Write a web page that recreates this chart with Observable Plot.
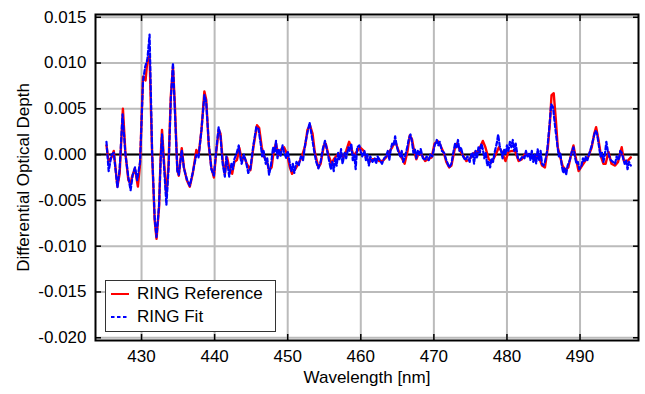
<!DOCTYPE html>
<html>
<head>
<meta charset="utf-8">
<script src="https://cdn.jsdelivr.net/npm/d3@7"></script>
<script src="https://cdn.jsdelivr.net/npm/@observablehq/plot@0.6"></script>
<style>
  body { margin: 0; background: #fff; font-family: "Liberation Sans", Arial, Helvetica, sans-serif; }
  #wrap { position: relative; width: 645px; height: 394px; }
  #legend { position: absolute; left: 105px; top: 280px; width: 169px; height: 50px;
            border: 1.5px solid #333; background: #fff; font-size: 17px; color: #000; }
  .row { position: absolute; left: 5px; height: 20px; display: flex; align-items: center; }
  .row span { margin-left: 8px; }
</style>
</head>
<body>
<div id="wrap"></div>
<script>
const xTicks = [430, 440, 450, 460, 470, 480, 490];
const yTicks = [-0.020, -0.015, -0.010, -0.005, 0.000, 0.005, 0.010, 0.015];
const seriesNames = ["RING Reference", "RING Fit"];
const xLabel = "Wavelength [nm]";
const yLabel = "Differential Optical Depth";

// [wavelength nm, differential optical depth]
const refData = [
[425.2,0.0010],[425.5,-0.0008],[425.9,-0.0003],[426.2,0.0004],[426.7,-0.0035],[427.0,-0.0021],[427.45,0.0050],[427.8,0.0001],[428.2,-0.0028],[428.5,-0.0032],[428.7,-0.0024],[429.1,-0.0015],[429.5,-0.0035],[429.8,-0.0010],[430.2,0.0085],[430.55,0.0081],[430.8,0.0103],[431.1,0.0108],[431.45,0.0],[431.8,-0.0072],[432.05,-0.0092],[432.4,-0.0057],[432.6,-0.0006],[432.8,0.0027],[433.1,-0.0010],[433.4,-0.0046],[433.7,-0.0010],[434.0,0.0063],[434.3,0.0096],[434.55,0.0056],[434.9,-0.0017],[435.1,-0.0023],[435.5,0.0007],[435.8,-0.0014],[436.2,-0.0028],[436.6,-0.0035],[437.0,-0.0021],[437.5,0.0005],[437.8,-0.0001],[438.2,0.0027],[438.6,0.0069],[438.85,0.0060],[439.2,0.0010],[439.55,-0.0014],[439.9,-0.0025],[440.2,0.0001],[440.55,0.0027],[440.8,0.0023],[441.1,-0.0006],[441.4,-0.0021],[441.7,-0.0003],[442.0,-0.0014],[442.4,-0.0021],[442.7,-0.0008],[443.05,-0.0006],[443.4,0.0007],[443.7,-0.0006],[444.1,-0.0003],[444.4,-0.0010],[444.9,-0.0017],[445.3,0.0008],[445.8,0.0032],[446.1,0.0029],[446.45,0.0008],[446.8,-0.0003],[447.1,-0.0006],[447.45,-0.0017],[447.8,-0.0014],[448.1,0.0005],[448.4,0.0012],[448.7,-0.0001],[449.2,0.0007],[449.5,0.0008],[449.9,0.0001],[450.3,-0.0014],[450.6,-0.0021],[451.1,-0.0015],[451.45,-0.0010],[451.9,-0.0003],[452.4,0.0010],[452.7,0.0027],[453.05,0.0032],[453.4,0.0023],[453.7,0.0003],[454.2,-0.0014],[454.5,-0.0010],[454.95,0.0010],[455.2,0.0012],[455.6,-0.0001],[456.0,-0.0010],[456.3,-0.0005],[456.7,-0.0001],[457.2,0.0001],[457.6,-0.0003],[458.0,0.0004],[458.4,0.0014],[458.6,0.0010],[459.0,-0.0001],[459.45,0.0003],[459.9,0.0008],[460.4,0.0004],[460.7,-0.0003],[461.2,-0.0008],[461.6,-0.0005],[462.1,-0.0005],[462.5,-0.0007],[463.0,-0.0007],[463.45,-0.0003],[463.9,0.0003],[464.3,0.0008],[464.7,0.0015],[465.0,0.0008],[465.4,-0.0001],[465.7,-0.0005],[466.0,-0.0010],[466.4,0.0004],[466.7,0.0021],[467.0,0.0017],[467.3,0.0004],[467.6,-0.0005],[468.0,0.0003],[468.4,-0.0001],[468.8,-0.0007],[469.2,-0.0005],[469.7,-0.0003],[470.1,0.0012],[470.5,0.0015],[470.9,0.0010],[471.4,0.0001],[471.7,-0.0008],[472.1,-0.0014],[472.4,-0.0012],[472.9,0.0008],[473.2,0.0012],[473.6,0.0004],[474.0,-0.0001],[474.45,-0.0007],[474.9,-0.0005],[475.4,0.0001],[475.7,0.0003],[476.1,0.0004],[476.7,0.0015],[477.05,0.0008],[477.5,-0.0005],[477.95,-0.0008],[478.4,-0.0001],[478.9,0.0008],[479.3,0.0003],[479.8,-0.0007],[480.2,0.0003],[480.7,0.0004],[481.1,0.0004],[481.6,-0.0007],[482.05,-0.0005],[482.5,0.0001],[482.95,-0.0001],[483.4,-0.0003],[483.9,-0.0005],[484.3,-0.0001],[484.8,-0.0012],[485.2,-0.0014],[485.6,0.0008],[485.9,0.0037],[486.1,0.0065],[486.4,0.0067],[486.7,0.0037],[486.95,0.0008],[487.3,-0.0003],[487.6,-0.0012],[488.0,-0.0017],[488.4,-0.0014],[488.8,0.0001],[489.1,0.0010],[489.4,-0.0003],[489.8,-0.0018],[490.2,-0.0013],[490.7,-0.0007],[491.1,-0.0003],[491.6,0.0008],[491.95,0.0023],[492.2,0.0030],[492.5,0.0017],[492.9,-0.0003],[493.2,-0.0010],[493.5,-0.0010],[493.9,0.0003],[494.3,-0.0010],[494.8,-0.0012],[495.2,-0.0008],[495.7,0.0008],[496.0,-0.0007],[496.5,-0.0007],[496.95,-0.0003]
];

const fitData = [
[425.2,0.0014],[425.5,-0.0018],[425.9,0.0000],[426.2,0.0002],[426.7,-0.0036],[427.0,-0.0016],[427.4,0.0044],[427.8,0.0000],[428.2,-0.0025],[428.5,-0.0039],[428.8,-0.0022],[429.1,-0.0014],[429.4,-0.0028],[429.8,-0.0008],[430.2,0.0080],[430.5,0.0096],[430.8,0.0104],[431.1,0.0131],[431.45,0.0002],[431.8,-0.0070],[432.05,-0.0090],[432.4,-0.0055],[432.6,-0.0008],[432.8,0.0022],[433.1,-0.0015],[433.4,-0.0055],[433.7,-0.0015],[434.0,0.0060],[434.3,0.0100],[434.55,0.0050],[434.9,-0.0018],[435.1,-0.0022],[435.5,0.0005],[435.8,-0.0015],[436.2,-0.0027],[436.6,-0.0034],[437.0,-0.0020],[437.5,0.0000],[437.8,-0.0003],[438.2,0.0027],[438.6,0.0065],[438.85,0.0057],[439.2,0.0012],[439.55,-0.0016],[439.9,-0.0023],[440.2,0.0003],[440.55,0.0030],[440.8,0.0020],[441.1,-0.0010],[441.4,-0.0024],[441.6,-0.0002],[441.8,-0.0012],[442.0,-0.0024],[442.3,-0.0010],[442.5,-0.0016],[442.7,-0.0005],[443.0,0.0001],[443.3,0.0010],[443.5,-0.0002],[443.7,-0.0010],[444.0,0.0000],[444.3,-0.0008],[444.6,-0.0020],[444.9,-0.0015],[445.3,0.0010],[445.7,0.0030],[446.0,0.0028],[446.3,0.0012],[446.5,-0.0002],[446.7,0.0004],[447.0,-0.0010],[447.2,-0.0004],[447.45,-0.0022],[447.7,-0.0012],[448.0,0.0008],[448.2,0.0002],[448.4,0.0015],[448.6,-0.0004],[448.8,0.0006],[449.0,-0.0002],[449.3,0.0010],[449.5,0.0002],[449.8,-0.0004],[450.0,0.0004],[450.3,-0.0010],[450.5,-0.0018],[450.7,-0.0010],[450.9,-0.0020],[451.2,-0.0008],[451.5,-0.0012],[451.8,-0.0002],[452.1,-0.0006],[452.4,0.0012],[452.7,0.0024],[453.0,0.0035],[453.3,0.0020],[453.6,0.0005],[453.9,-0.0008],[454.2,-0.0015],[454.5,-0.0008],[454.8,0.0006],[455.1,0.0015],[455.35,0.0006],[455.6,-0.0004],[455.9,-0.0016],[456.1,-0.0008],[456.3,-0.0018],[456.5,-0.0004],[456.7,-0.0012],[456.9,0.0002],[457.1,-0.0006],[457.3,0.0006],[457.5,-0.0010],[457.8,0.0002],[458.0,-0.0004],[458.3,0.0008],[458.5,0.0004],[458.7,0.0012],[458.9,-0.0006],[459.1,0.0000],[459.3,-0.0016],[459.5,0.0008],[459.8,0.0010],[460.0,0.0003],[460.2,-0.0002],[460.5,0.0004],[460.7,-0.0006],[460.9,0.0000],[461.1,-0.0012],[461.3,-0.0002],[461.6,-0.0008],[461.9,-0.0004],[462.1,-0.0010],[462.3,-0.0002],[462.6,-0.0006],[462.9,-0.0010],[463.2,-0.0004],[463.45,-0.0002],[463.7,0.0004],[463.9,-0.0006],[464.1,0.0006],[464.3,0.0012],[464.5,0.0010],[464.7,0.0020],[464.9,0.0010],[465.1,0.0004],[465.4,-0.0002],[465.6,0.0004],[465.8,-0.0008],[466.0,-0.0004],[466.3,0.0006],[466.6,0.0018],[466.8,0.0022],[467.0,0.0014],[467.2,0.0002],[467.4,0.0006],[467.6,-0.0004],[467.8,0.0004],[468.0,0.0000],[468.2,0.0006],[468.5,-0.0004],[468.8,-0.0006],[469.0,-0.0002],[469.3,-0.0006],[469.5,0.0000],[469.8,-0.0002],[470.1,0.0010],[470.4,0.0016],[470.6,0.0010],[470.8,0.0014],[471.1,0.0004],[471.4,0.0002],[471.7,-0.0006],[472.1,-0.0014],[472.4,-0.0010],[472.7,0.0004],[472.9,0.0012],[473.1,0.0008],[473.3,0.0016],[473.5,0.0004],[473.7,0.0008],[474.0,-0.0002],[474.3,-0.0006],[474.6,-0.0002],[474.9,-0.0008],[475.1,0.0000],[475.3,0.0002],[475.5,-0.0010],[475.7,0.0004],[475.9,-0.0004],[476.1,0.0008],[476.3,0.0002],[476.5,0.0012],[476.7,0.0006],[476.9,-0.0004],[477.1,0.0002],[477.3,-0.0012],[477.5,-0.0008],[477.7,-0.0014],[477.9,-0.0004],[478.1,-0.0008],[478.3,0.0002],[478.6,0.0012],[478.8,0.0022],[479.0,0.0010],[479.2,0.0004],[479.4,-0.0004],[479.6,0.0006],[479.8,0.0000],[480.0,0.0010],[480.2,0.0004],[480.4,0.0014],[480.6,0.0008],[480.8,0.0016],[481.0,0.0004],[481.2,0.0012],[481.5,-0.0004],[481.8,-0.0006],[482.1,-0.0002],[482.4,-0.0004],[482.6,0.0004],[482.8,-0.0002],[483.0,0.0002],[483.2,-0.0006],[483.4,0.0004],[483.6,-0.0008],[483.8,0.0000],[484.0,-0.0010],[484.2,0.0006],[484.4,-0.0006],[484.6,0.0004],[484.8,-0.0010],[485.0,-0.0012],[485.2,-0.0008],[485.5,0.0004],[485.8,0.0030],[486.05,0.0055],[486.3,0.0052],[486.6,0.0030],[486.9,0.0010],[487.1,-0.0002],[487.3,0.0002],[487.5,-0.0012],[487.7,-0.0020],[487.9,-0.0014],[488.1,-0.0022],[488.3,-0.0012],[488.6,-0.0006],[488.9,0.0004],[489.1,0.0008],[489.3,-0.0002],[489.5,-0.0010],[489.7,-0.0008],[489.9,-0.0016],[490.2,-0.0012],[490.4,-0.0004],[490.6,-0.0008],[490.8,-0.0002],[491.0,-0.0006],[491.3,0.0002],[491.6,0.0010],[491.9,0.0020],[492.1,0.0026],[492.3,0.0024],[492.5,0.0014],[492.8,-0.0002],[493.0,0.0002],[493.2,-0.0008],[493.4,0.0000],[493.6,0.0014],[493.8,0.0004],[494.0,-0.0002],[494.2,-0.0006],[494.5,-0.0008],[494.8,-0.0010],[495.0,-0.0002],[495.3,-0.0006],[495.5,0.0004],[495.7,0.0002],[495.9,-0.0004],[496.1,-0.0010],[496.3,-0.0006],[496.5,-0.0016],[496.7,-0.0008],[496.95,-0.0012]
];

const fmtY = d => d.toFixed(3);

const chart = Plot.plot({
  width: 645,
  height: 394,
  marginLeft: 95,
  marginRight: 7,
  marginTop: 14,
  marginBottom: 54,
  style: { fontFamily: '"Liberation Sans", Arial, Helvetica, sans-serif', fontSize: "17px", background: "#fff", color: "#000" },
  x: { domain: [423.7, 498] },
  y: { domain: [-0.0203, 0.0153] },
  marks: [
    Plot.gridX(xTicks, { stroke: "#bbb", strokeOpacity: 1, strokeWidth: 2 }),
    Plot.gridY(yTicks, { stroke: "#bbb", strokeOpacity: 1, strokeWidth: 2 }),
    Plot.ruleY([0], { stroke: "#000", strokeWidth: 2 }),
    Plot.line(refData, { x: d => d[0], y: d => d[1], stroke: "#ff0000", strokeWidth: 2.4 }),
    Plot.line(fitData, { x: d => d[0], y: d => d[1], stroke: "#0000ff", strokeWidth: 2.2, strokeDasharray: "4,2.5" }),
    // inward ticks on all four sides
    Plot.axisX(xTicks, { anchor: "bottom", tickSize: -6, fill: "none", strokeWidth: 1.5, label: null }),
    Plot.axisX(xTicks, { anchor: "top", tickSize: -6, fill: "none", strokeWidth: 1.5, label: null }),
    Plot.axisY(yTicks, { anchor: "left", tickSize: -6, fill: "none", strokeWidth: 1.5, label: null }),
    Plot.axisY(yTicks, { anchor: "right", tickSize: -6, fill: "none", strokeWidth: 1.5, label: null }),
    // tick labels and axis titles
    Plot.axisX(xTicks, { anchor: "bottom", tickSize: 0, tickPadding: 9, label: xLabel, labelAnchor: "center", labelOffset: 42, labelArrow: "none", fontSize: 17 }),
    Plot.axisY(yTicks, { anchor: "left", tickSize: 0, tickPadding: 9, tickFormat: fmtY, label: yLabel, labelAnchor: "center", labelOffset: 79, labelArrow: "none", fontSize: 17 }),
    Plot.frame({ stroke: "#000", strokeWidth: 2 })
  ]
});

const wrap = document.getElementById("wrap");
wrap.appendChild(chart);

const legend = document.createElement("div");
legend.id = "legend";
const styles = [
  { stroke: "#ff0000", dash: null, top: 3 },
  { stroke: "#0000ff", dash: "3.5,2.5", top: 26 }
];
seriesNames.forEach((name, i) => {
  const row = document.createElement("div");
  row.className = "row";
  row.style.top = styles[i].top + "px";
  row.innerHTML = `<svg width="18" height="20"><line x1="0" y1="10" x2="18" y2="10" stroke="${styles[i].stroke}" stroke-width="2" ${styles[i].dash ? `stroke-dasharray="${styles[i].dash}"` : ""}/></svg><span></span>`;
  row.querySelector("span").textContent = name;
  legend.appendChild(row);
});
wrap.appendChild(legend);
</script>
</body>
</html>
